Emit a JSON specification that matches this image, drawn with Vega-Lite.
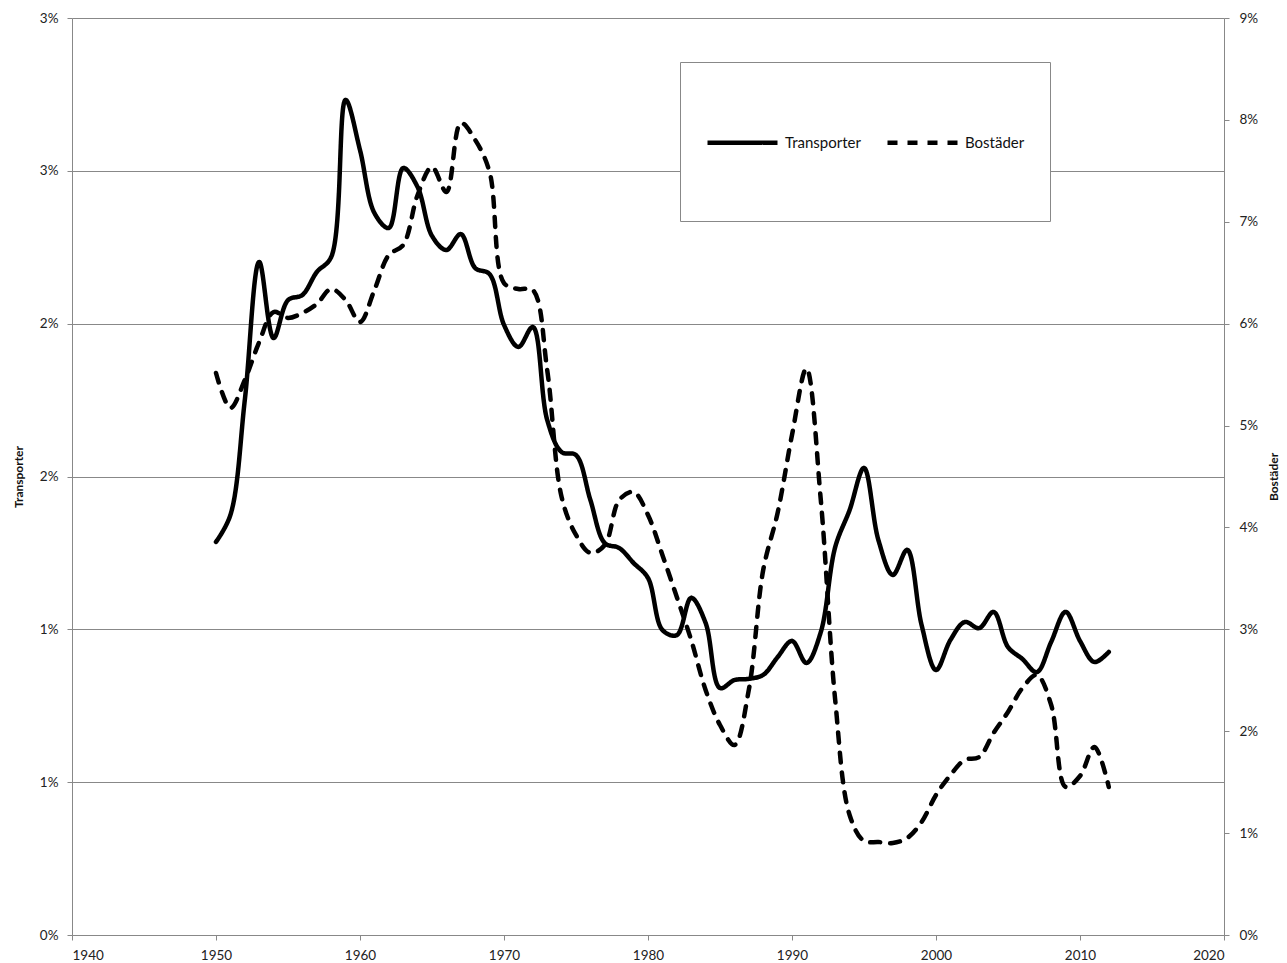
{
  "$schema": "https://vega.github.io/schema/vega-lite/v6.json",
  "width": 1152,
  "height": 917,
  "autosize": {"type": "none"},
  "padding": {"left": 72, "top": 18, "right": 63, "bottom": 28},
  "background": "white",
  "config": {
    "view": {"stroke": null},
    "font": "Lato",
    "axis": {"labelFont": "Lato", "titleFont": "Lato", "labelColor": "#222", "titleColor": "#111", "domainColor": "#888", "tickColor": "#888", "gridColor": "#888", "labelFontSize": 13.5, "titleFontSize": 12, "titleFontWeight": "bold", "tickSize": 5},
    "legend": {"orient": "none", "legendX": 608, "legendY": 44, "direction": "horizontal", "symbolType": "M-1,0H1M0,1.26L0,1.26", "symbolSize": 4900, "symbolStrokeWidth": 4.5, "symbolStrokeColor": "black", "labelFont": "Lato", "labelFontSize": 15, "labelColor": "#111", "strokeColor": "#888", "fillColor": "white", "padding": 25, "columnPadding": 17, "labelOffset": 5, "titleFontSize": 8, "titlePadding": 10}
  },
  "data": {"values": [
    {"year": 1950, "Transporter": 0.01286, "Bostader": 0.05516},
    {"year": 1951, "Transporter": 0.01374, "Bostader": 0.05172},
    {"year": 1952, "Transporter": 0.01750, "Bostader": 0.05447},
    {"year": 1953, "Transporter": 0.02202, "Bostader": 0.05820},
    {"year": 1954, "Transporter": 0.01953, "Bostader": 0.06114},
    {"year": 1955, "Transporter": 0.02077, "Bostader": 0.06056},
    {"year": 1956, "Transporter": 0.02094, "Bostader": 0.06105},
    {"year": 1957, "Transporter": 0.02169, "Bostader": 0.06193},
    {"year": 1958, "Transporter": 0.02218, "Bostader": 0.06340},
    {"year": 1959, "Transporter": 0.02732, "Bostader": 0.06232},
    {"year": 1960, "Transporter": 0.02568, "Bostader": 0.06016},
    {"year": 1961, "Transporter": 0.02362, "Bostader": 0.06330},
    {"year": 1962, "Transporter": 0.02313, "Bostader": 0.06674},
    {"year": 1963, "Transporter": 0.02509, "Bostader": 0.06772},
    {"year": 1964, "Transporter": 0.02447, "Bostader": 0.07263},
    {"year": 1965, "Transporter": 0.02287, "Bostader": 0.07538},
    {"year": 1966, "Transporter": 0.02241, "Bostader": 0.07292},
    {"year": 1967, "Transporter": 0.02293, "Bostader": 0.07970},
    {"year": 1968, "Transporter": 0.02182, "Bostader": 0.07803},
    {"year": 1969, "Transporter": 0.02162, "Bostader": 0.07488},
    {"year": 1970, "Transporter": 0.01996, "Bostader": 0.06399},
    {"year": 1971, "Transporter": 0.01924, "Bostader": 0.06340},
    {"year": 1972, "Transporter": 0.01989, "Bostader": 0.06330},
    {"year": 1973, "Transporter": 0.01685, "Bostader": 0.05545},
    {"year": 1974, "Transporter": 0.01580, "Bostader": 0.04299},
    {"year": 1975, "Transporter": 0.01570, "Bostader": 0.03926},
    {"year": 1976, "Transporter": 0.01423, "Bostader": 0.03750},
    {"year": 1977, "Transporter": 0.01282, "Bostader": 0.03828},
    {"year": 1978, "Transporter": 0.01266, "Bostader": 0.04269},
    {"year": 1979, "Transporter": 0.01217, "Bostader": 0.04348},
    {"year": 1980, "Transporter": 0.01168, "Bostader": 0.04122},
    {"year": 1981, "Transporter": 0.00998, "Bostader": 0.03730},
    {"year": 1982, "Transporter": 0.00981, "Bostader": 0.03317},
    {"year": 1983, "Transporter": 0.01103, "Bostader": 0.02895},
    {"year": 1984, "Transporter": 0.01021, "Bostader": 0.02405},
    {"year": 1985, "Transporter": 0.00808, "Bostader": 0.02061},
    {"year": 1986, "Transporter": 0.00834, "Bostader": 0.01865},
    {"year": 1987, "Transporter": 0.00838, "Bostader": 0.02405},
    {"year": 1988, "Transporter": 0.00851, "Bostader": 0.03582},
    {"year": 1989, "Transporter": 0.00909, "Bostader": 0.04142},
    {"year": 1990, "Transporter": 0.00962, "Bostader": 0.04907},
    {"year": 1991, "Transporter": 0.00890, "Bostader": 0.05560},
    {"year": 1992, "Transporter": 0.00991, "Bostader": 0.04269},
    {"year": 1993, "Transporter": 0.01269, "Bostader": 0.02306},
    {"year": 1994, "Transporter": 0.01390, "Bostader": 0.01178},
    {"year": 1995, "Transporter": 0.01528, "Bostader": 0.00923},
    {"year": 1996, "Transporter": 0.01292, "Bostader": 0.00913},
    {"year": 1997, "Transporter": 0.01178, "Bostader": 0.00903},
    {"year": 1998, "Transporter": 0.01260, "Bostader": 0.00952},
    {"year": 1999, "Transporter": 0.01014, "Bostader": 0.01109},
    {"year": 2000, "Transporter": 0.00867, "Bostader": 0.01374},
    {"year": 2001, "Transporter": 0.00965, "Bostader": 0.01570},
    {"year": 2002, "Transporter": 0.01024, "Bostader": 0.01718},
    {"year": 2003, "Transporter": 0.01004, "Bostader": 0.01747},
    {"year": 2004, "Transporter": 0.01057, "Bostader": 0.01983},
    {"year": 2005, "Transporter": 0.00942, "Bostader": 0.02189},
    {"year": 2006, "Transporter": 0.00903, "Bostader": 0.02424},
    {"year": 2007, "Transporter": 0.00860, "Bostader": 0.02552},
    {"year": 2008, "Transporter": 0.00959, "Bostader": 0.02257},
    {"year": 2009, "Transporter": 0.01057, "Bostader": 0.01453},
    {"year": 2010, "Transporter": 0.00962, "Bostader": 0.01561},
    {"year": 2011, "Transporter": 0.00893, "Bostader": 0.01845},
    {"year": 2012, "Transporter": 0.00926, "Bostader": 0.01453}
  ]},
  "encoding": {
    "x": {"field": "year", "type": "quantitative", "scale": {"domain": [1940, 2020], "nice": false, "zero": false},
      "axis": {"title": null, "values": [1940, 1950, 1960, 1970, 1980, 1990, 2000, 2010, 2020], "format": "d", "grid": false, "labelPadding": 8}}
  },
  "layer": [
    {
      "mark": {"type": "line", "interpolate": "catmull-rom", "color": "black", "strokeWidth": 4.5, "strokeCap": "round", "strokeJoin": "round"},
      "encoding": {
        "y": {"field": "Transporter", "type": "quantitative", "scale": {"domain": [0, 0.03], "nice": false},
          "axis": {"title": "Transporter", "orient": "left", "values": [0, 0.005, 0.01, 0.015, 0.02, 0.025, 0.03], "labelExpr": "format(datum.value + 0.000001, '.0%')", "grid": true,
            "labelPadding": 9, "titlePadding": 14}},
        "strokeDash": {"datum": "Transporter", "type": "nominal",
          "scale": {"domain": ["Transporter", "Bostäder"], "range": [[1, 0], [10, 10]]},
          "legend": {"title": "\u00a0"}}
      }
    },
    {
      "mark": {"type": "line", "interpolate": "catmull-rom", "color": "black", "strokeWidth": 4.5, "strokeCap": "round", "strokeJoin": "round"},
      "encoding": {
        "y": {"field": "Bostader", "type": "quantitative", "scale": {"domain": [0, 0.09], "nice": false},
          "axis": {"title": "Bostäder", "orient": "right", "values": [0, 0.01, 0.02, 0.03, 0.04, 0.05, 0.06, 0.07, 0.08, 0.09], "format": ".0%", "grid": false, "labelPadding": 10, "titlePadding": 23, "titleAngle": 270}},
        "strokeDash": {"datum": "Bostäder", "type": "nominal"}
      }
    }
  ],
  "resolve": {"scale": {"y": "independent"}}
}
